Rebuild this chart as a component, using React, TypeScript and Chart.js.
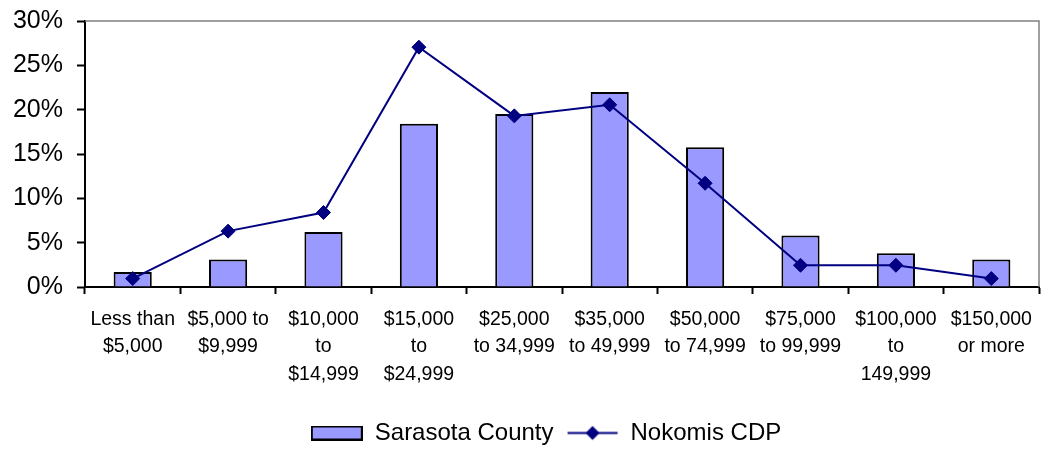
import React, { useEffect, useRef } from 'react';
import { Chart, registerables } from 'chart.js';

Chart.register(...registerables);

const categories: string[][] = [
  ['Less than', '$5,000'],
  ['$5,000 to', '$9,999'],
  ['$10,000', 'to', '$14,999'],
  ['$15,000', 'to', '$24,999'],
  ['$25,000', 'to 34,999'],
  ['$35,000', 'to 49,999'],
  ['$50,000', 'to 74,999'],
  ['$75,000', 'to 99,999'],
  ['$100,000', 'to', '149,999'],
  ['$150,000', 'or more'],
];
const seriesNames = ['Sarasota County', 'Nokomis CDP'];
const sarasotaCounty = [1.7, 3.1, 6.2, 18.4, 19.5, 22.0, 15.75, 5.8, 3.8, 3.1];
const nokomisCDP = [0.95, 6.3, 8.4, 27.05, 19.3, 20.55, 11.7, 2.45, 2.45, 0.95];
const yMin = 0;
const yMax = 30;
const yStep = 5;

const BAR_FILL = '#9999FF';
const LINE_COLOR = '#000080';
const FONT = '"Liberation Sans", Arial, sans-serif';

function makeBarSymbol(): HTMLCanvasElement {
  const c = document.createElement('canvas');
  c.width = 52;
  c.height = 15;
  const ctx = c.getContext('2d')!;
  ctx.fillStyle = BAR_FILL;
  ctx.fillRect(1, 1, 50, 13);
  ctx.strokeStyle = '#000';
  ctx.lineWidth = 2;
  ctx.strokeRect(1, 1, 50, 13);
  return c;
}

function makeLineSymbol(): HTMLCanvasElement {
  const c = document.createElement('canvas');
  c.width = 52;
  c.height = 17;
  const ctx = c.getContext('2d')!;
  ctx.strokeStyle = LINE_COLOR;
  ctx.lineWidth = 2;
  ctx.beginPath();
  ctx.moveTo(1, 8.5);
  ctx.lineTo(51, 8.5);
  ctx.stroke();
  ctx.fillStyle = LINE_COLOR;
  ctx.beginPath();
  ctx.moveTo(26 - 7, 8.5);
  ctx.lineTo(26, 1.5);
  ctx.lineTo(26 + 7, 8.5);
  ctx.lineTo(26, 15.5);
  ctx.closePath();
  ctx.fill();
  return c;
}

const framePlugin = {
  id: 'frame',
  beforeDatasetsDraw(chart: any) {
    const { ctx, chartArea } = chart;
    ctx.save();
    ctx.strokeStyle = '#808080';
    ctx.lineWidth = 1.5;
    ctx.beginPath();
    ctx.moveTo(chartArea.left, chartArea.top);
    ctx.lineTo(chartArea.right, chartArea.top);
    ctx.lineTo(chartArea.right, chartArea.bottom);
    ctx.stroke();
    ctx.restore();
  },
};

const legendShiftPlugin = {
  id: 'legendShift',
  afterLayout(chart: any) {
    const lg = chart.legend;
    if (lg) {
      lg.left += 17;
      lg.right += 17;
    }
  },
};

export default function App() {
  const ref = useRef<HTMLCanvasElement | null>(null);

  useEffect(() => {
    if (!ref.current) return;
    const barSym = makeBarSymbol();
    const lineSym = makeLineSymbol();
    const chart = new Chart(ref.current, {
      data: {
        labels: categories,
        datasets: [
          {
            type: 'line',
            label: seriesNames[1],
            data: nokomisCDP,
            borderColor: LINE_COLOR,
            backgroundColor: LINE_COLOR,
            borderWidth: 2,
            pointStyle: 'rectRot',
            pointRadius: 7,
            pointBorderWidth: 1,
            pointBackgroundColor: LINE_COLOR,
            pointBorderColor: LINE_COLOR,
            tension: 0,
            order: 1,
          } as any,
          {
            type: 'bar',
            label: seriesNames[0],
            data: sarasotaCounty,
            backgroundColor: BAR_FILL,
            borderColor: '#000',
            borderWidth: 2,
            barPercentage: 0.4,
            categoryPercentage: 1,
            order: 2,
          } as any,
        ],
      },
      options: {
        animation: false,
        responsive: false,
        maintainAspectRatio: false,
        color: '#000',
        layout: { padding: { left: 13, right: 2, top: 21, bottom: -5 } },
        scales: {
          x: {
            offset: true,
            grid: {
              offset: true,
              drawOnChartArea: false,
              drawTicks: true,
              tickLength: 7,
              tickWidth: 2,
              tickColor: '#000',
            },
            border: { display: true, color: '#000', width: 2 },
            ticks: {
              color: '#000',
              padding: 12,
              maxRotation: 0,
              autoSkip: false,
              font: { family: FONT, size: 19.5, lineHeight: 1.4 },
            },
            afterFit: (s: any) => {
              s.height = 121;
            },
          },
          y: {
            min: yMin,
            max: yMax,
            grid: {
              drawOnChartArea: false,
              drawTicks: true,
              tickLength: 8,
              tickWidth: 2,
              tickColor: '#000',
            },
            border: { display: true, color: '#000', width: 2 },
            ticks: {
              stepSize: yStep,
              color: '#000',
              padding: 14,
              font: { family: FONT, size: 25 },
              callback: (v: any) => `${v}%`,
            },
            afterFit: (s: any) => {
              s.width = 72;
              s.paddingTop = 0;
              s.paddingBottom = 0;
            },
          },
        },
        plugins: {
          tooltip: { enabled: false },
          legend: {
            display: true,
            position: 'bottom',
            labels: {
              usePointStyle: true,
              pointStyleWidth: 52,
              boxHeight: 15,
              padding: 13,
              color: '#000',
              font: { family: FONT, size: 24 },
              generateLabels: () => [
                { text: seriesNames[0], pointStyle: barSym as any, datasetIndex: 1, hidden: false, lineWidth: 0, fontColor: '#000' },
                { text: seriesNames[1], pointStyle: lineSym as any, datasetIndex: 0, hidden: false, lineWidth: 0, fontColor: '#000' },
              ],
            },
          },
        },
      },
      plugins: [framePlugin, legendShiftPlugin],
    } as any);
    return () => chart.destroy();
  }, []);

  return (
    <canvas
      ref={ref}
      width={1047}
      height={450}
      style={{ position: 'absolute', left: 0, top: 0, width: 1047, height: 450 }}
    />
  );
}
